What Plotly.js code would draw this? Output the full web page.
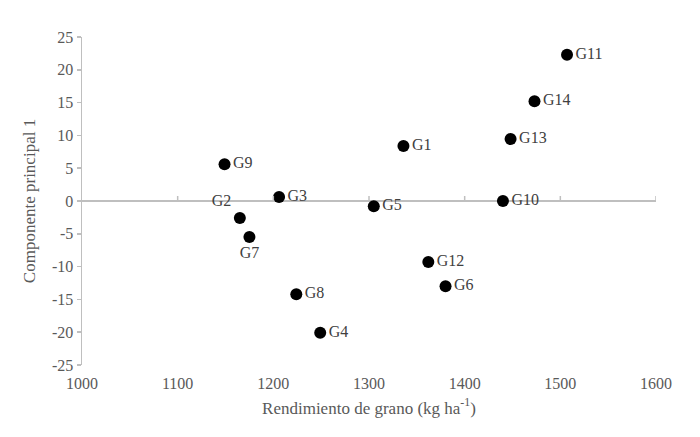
<!DOCTYPE html>
<html>
<head>
<meta charset="utf-8">
<script src="https://cdn.plot.ly/plotly-3.0.1.min.js"></script>
<style>html,body{margin:0;padding:0;background:#fff;}#chart{width:700px;height:437px;}</style>
</head>
<body>
<div id="chart"></div>
<script>
// Genotype labels
const genotypes = ["G1","G2","G3","G4","G5","G6","G7","G8","G9","G10","G11","G12","G13","G14"];
// Grain yield (kg ha-1)
const yieldKg = [1336, 1165, 1206, 1249, 1305, 1380, 1175, 1224, 1149, 1440, 1507, 1362, 1448, 1473];
// Principal component 1
const pc1 = [8.4, -2.6, 0.6, -20.1, -0.8, -13.0, -5.5, -14.2, 5.6, 0.0, 22.3, -9.3, 9.45, 15.2];
// Label placement per genotype
const labelPos = ["middle right","top left","middle right","middle right","middle right","middle right","bottom center","middle right","middle right","middle right","middle right","middle right","middle right","middle right"];
// Axis ticks
const xTicks = [1000, 1100, 1200, 1300, 1400, 1500, 1600];
const yTicks = [-25, -20, -15, -10, -5, 0, 5, 10, 15, 20, 25];

const axisGrey = "#bfbfbf";
const textGrey = "#595959";
const font = "'Liberation Serif', 'Times New Roman', serif";

const trace = {
  x: yieldKg, y: pc1, text: genotypes,
  mode: "markers+text", type: "scatter",
  textposition: labelPos,
  textfont: {family: font, size: 16, color: "#404040"},
  marker: {color: "#000", size: 12},
  hoverinfo: "skip", cliponaxis: false
};

// small tick marks standing on the zero line
const tickShapes = xTicks.slice(1).map(v => ({
  type: "line", xref: "x", yref: "y", x0: v, x1: v,
  ysizemode: "pixel", yanchor: 0, y0: 0, y1: 5,
  line: {color: axisGrey, width: 1.5}
}));

const layout = {
  width: 700, height: 437,
  margin: {l: 82, r: 44, t: 37, b: 72},
  paper_bgcolor: "#fff", plot_bgcolor: "#fff",
  showlegend: false,
  font: {family: font, color: textGrey, size: 16},
  xaxis: {
    range: [1000, 1600], tickvals: xTicks, ticktext: xTicks.map(String),
    showline: false, showgrid: false, zeroline: false,
    ticks: "outside", ticklen: 4, tickcolor: "rgba(0,0,0,0)",
    tickfont: {family: font, size: 16, color: textGrey},
    title: {text: "Rendimiento de grano (kg ha<sup>-1</sup>)", font: {family: font, size: 17, color: textGrey}, standoff: 10}
  },
  yaxis: {
    range: [-25, 25], tickvals: yTicks, ticktext: yTicks.map(String),
    showline: true, linecolor: axisGrey, linewidth: 1.5,
    ticks: "outside", ticklen: 4, tickcolor: axisGrey, tickwidth: 1.5,
    showgrid: false, zeroline: true, zerolinecolor: axisGrey, zerolinewidth: 2,
    tickfont: {family: font, size: 16, color: textGrey},
    title: {text: "Componente principal 1", font: {family: font, size: 17, color: textGrey}, standoff: 12}
  },
  shapes: tickShapes
};

Plotly.newPlot("chart", [trace], layout, {displayModeBar: false, staticPlot: true});
</script>
</body>
</html>
